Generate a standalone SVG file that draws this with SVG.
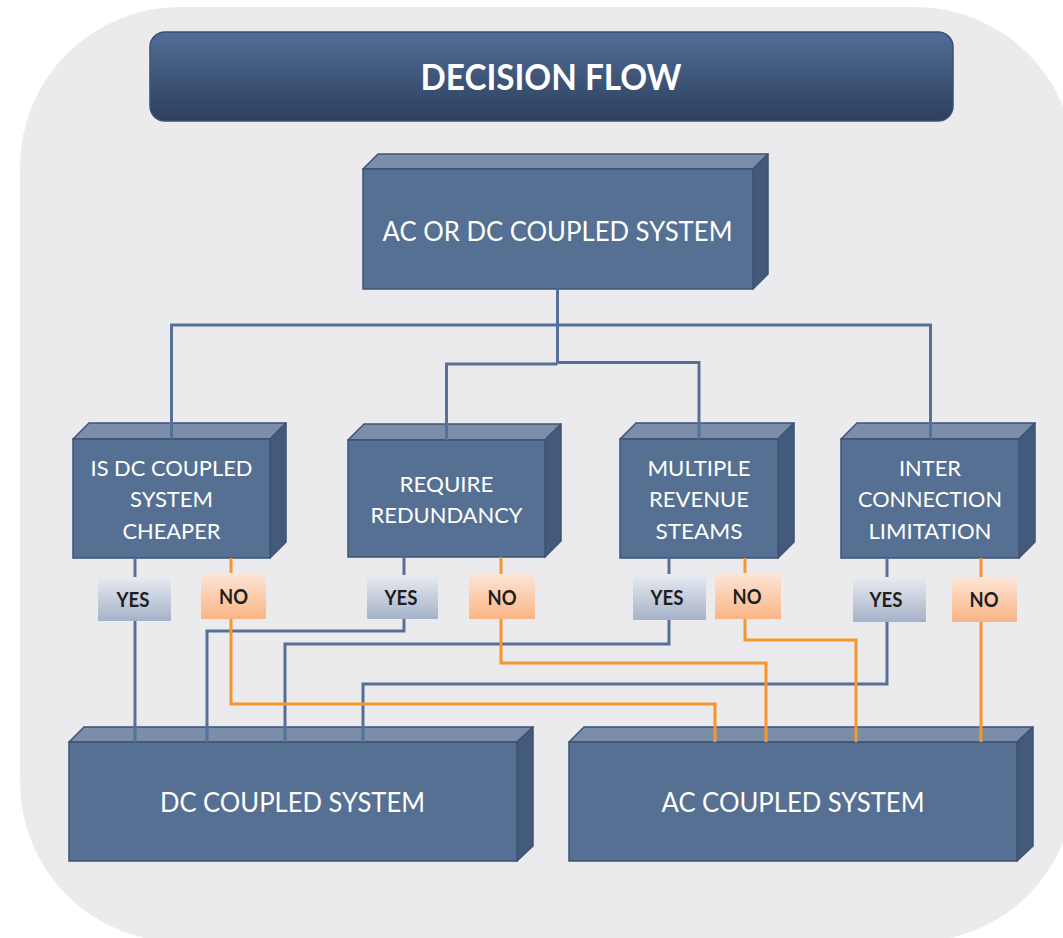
<svg xmlns="http://www.w3.org/2000/svg" width="1063" height="938" viewBox="0 0 1063 938">
  <defs>
    <linearGradient id="gTitle" x1="0" y1="0" x2="0" y2="1">
      <stop offset="0" stop-color="#516E97"/>
      <stop offset="1" stop-color="#2D3F5D"/>
    </linearGradient>
    <linearGradient id="gYes" x1="0" y1="0" x2="0" y2="1">
      <stop offset="0" stop-color="#E8EBF1"/>
      <stop offset="1" stop-color="#A5B2C9"/>
    </linearGradient>
    <linearGradient id="gNo" x1="0" y1="0" x2="0" y2="1">
      <stop offset="0" stop-color="#FDE5D7"/>
      <stop offset="1" stop-color="#F9B585"/>
    </linearGradient>
    <style>
      .front { fill: #557092; stroke: #3D5374; stroke-width: 1.5; }
      .top { fill: #7A8DAA; stroke: #3D5374; stroke-width: 1.5; stroke-linejoin: round; }
      .side { fill: #435A7A; stroke: #3D5374; stroke-width: 1.5; stroke-linejoin: round; }
      .lbl { font-family: Lato, "Liberation Sans", Arial, sans-serif; fill: #FFFFFF; text-anchor: middle; }
      .mid { font-size: 21.5px; }
      .big { font-size: 26px; }
      .blue { fill: none; stroke: #56709A; stroke-width: 3; }
      .orange { fill: none; stroke: #F7952F; stroke-width: 3; }
      .tag { font-family: Lato, "Liberation Sans", Arial, sans-serif; font-weight: bold; font-size: 21px; fill: #1E1E1E; text-anchor: middle; }
    </style>
  </defs>

  <!-- panel -->
  <rect x="20" y="7" width="1055" height="935" rx="160" ry="160" fill="#EBEBED"/>

  <!-- title banner -->
  <g id="title">
    <rect x="150" y="32" width="803" height="89" rx="15" ry="15" fill="url(#gTitle)" stroke="#3B506F" stroke-width="1.5"/>
    <text x="551" y="90" font-family="Lato, 'Liberation Sans', Arial, sans-serif" font-weight="bold" font-size="37" fill="#FFFFFF" text-anchor="middle" textLength="261" lengthAdjust="spacingAndGlyphs">DECISION FLOW</text>
  </g>

  <!-- top decision block -->
  <g id="node-root">
    <polygon class="top" points="363,169 378,154 768,154 753,169"/>
    <polygon class="side" points="753,169 768,154 768,274 753,289"/>
    <rect class="front" x="363" y="169" width="390" height="120"/>
    <text class="lbl big" x="557.5" y="240.5" textLength="350" lengthAdjust="spacingAndGlyphs">AC OR DC COUPLED SYSTEM</text>
  </g>

  <!-- question blocks -->
  <g id="node-cheaper">
    <polygon class="top" points="73,439 89,423 286,423 270,439"/>
    <polygon class="side" points="270,439 286,423 286,542 270,558"/>
    <rect class="front" x="73" y="439" width="197" height="119"/>
    <text class="lbl mid" x="171.5" y="475.5" textLength="162" lengthAdjust="spacingAndGlyphs">IS DC COUPLED</text>
    <text class="lbl mid" x="171.5" y="507" textLength="83" lengthAdjust="spacingAndGlyphs">SYSTEM</text>
    <text class="lbl mid" x="171.5" y="538.5" textLength="98" lengthAdjust="spacingAndGlyphs">CHEAPER</text>
  </g>

  <g id="node-redundancy">
    <polygon class="top" points="348,440 364,424 561,424 545,440"/>
    <polygon class="side" points="545,440 561,424 561,541 545,557"/>
    <rect class="front" x="348" y="440" width="197" height="117"/>
    <text class="lbl mid" x="446.5" y="492" textLength="94" lengthAdjust="spacingAndGlyphs">REQUIRE</text>
    <text class="lbl mid" x="446.5" y="523" textLength="152" lengthAdjust="spacingAndGlyphs">REDUNDANCY</text>
  </g>

  <g id="node-revenue">
    <polygon class="top" points="620,439 636,423 794,423 778,439"/>
    <polygon class="side" points="778,439 794,423 794,542 778,558"/>
    <rect class="front" x="620" y="439" width="158" height="119"/>
    <text class="lbl mid" x="699" y="475.5" textLength="103" lengthAdjust="spacingAndGlyphs">MULTIPLE</text>
    <text class="lbl mid" x="699" y="507" textLength="100" lengthAdjust="spacingAndGlyphs">REVENUE</text>
    <text class="lbl mid" x="699" y="538.5" textLength="87" lengthAdjust="spacingAndGlyphs">STEAMS</text>
  </g>

  <g id="node-interconnection">
    <polygon class="top" points="841,439 857,423 1035,423 1019,439"/>
    <polygon class="side" points="1019,439 1035,423 1035,542 1019,558"/>
    <rect class="front" x="841" y="439" width="178" height="119"/>
    <text class="lbl mid" x="930" y="475.5" textLength="62" lengthAdjust="spacingAndGlyphs">INTER</text>
    <text class="lbl mid" x="930" y="507" textLength="144" lengthAdjust="spacingAndGlyphs">CONNECTION</text>
    <text class="lbl mid" x="930" y="538.5" textLength="123" lengthAdjust="spacingAndGlyphs">LIMITATION</text>
  </g>

  <!-- outcome blocks -->
  <g id="node-dc">
    <polygon class="top" points="69,742 84,727 533,727 517,742"/>
    <polygon class="side" points="517,742 533,727 533,846 517,861"/>
    <rect class="front" x="69" y="742" width="448" height="119"/>
    <text class="lbl big" x="292.5" y="812" textLength="265" lengthAdjust="spacingAndGlyphs">DC COUPLED SYSTEM</text>
  </g>

  <g id="node-ac">
    <polygon class="top" points="569,742 584,727 1033,727 1017,742"/>
    <polygon class="side" points="1017,742 1033,727 1033,846 1017,861"/>
    <rect class="front" x="569" y="742" width="448" height="119"/>
    <text class="lbl big" x="793" y="812" textLength="263" lengthAdjust="spacingAndGlyphs">AC COUPLED SYSTEM</text>
  </g>

  <!-- connectors -->
  <g id="connectors">
    <!-- fan-out from the root block -->
    <path class="blue" d="M557.5,289 V363"/>
    <path class="blue" d="M171.5,439 V325 H930.5 V439"/>
    <path class="blue" d="M446.5,440 V364 H557.5"/>
    <path class="blue" d="M557.5,362.5 H699 V439"/>

    <!-- YES branches to DC -->
    <path class="blue" d="M135,558 V742"/>
    <path class="blue" d="M404,557 V631 H207 V742"/>
    <path class="blue" d="M669,558 V644 H285 V742"/>
    <path class="blue" d="M887,558 V684 H363 V742"/>

    <!-- NO branches to AC -->
    <path class="orange" d="M231,558 V704 H715 V742"/>
    <path class="orange" d="M501,557 V663 H766 V742"/>
    <path class="orange" d="M745,558 V640 H856 V742"/>
    <path class="orange" d="M981,558 V742"/>
  </g>

  <!-- branch tags -->
  <g id="tag-yes-1"><rect x="98" y="577" width="73" height="44" fill="url(#gYes)"/><text class="tag" x="133" y="606.5" textLength="33" lengthAdjust="spacingAndGlyphs">YES</text></g>
  <g id="tag-no-1"><rect x="201" y="573" width="65" height="46" fill="url(#gNo)"/><text class="tag" x="233.5" y="604" textLength="29" lengthAdjust="spacingAndGlyphs">NO</text></g>
  <g id="tag-yes-2"><rect x="367" y="575" width="71" height="44" fill="url(#gYes)"/><text class="tag" x="401" y="604.5" textLength="33" lengthAdjust="spacingAndGlyphs">YES</text></g>
  <g id="tag-no-2"><rect x="469" y="574" width="66" height="45" fill="url(#gNo)"/><text class="tag" x="502" y="604.5" textLength="29" lengthAdjust="spacingAndGlyphs">NO</text></g>
  <g id="tag-yes-3"><rect x="633" y="574" width="73" height="46" fill="url(#gYes)"/><text class="tag" x="667" y="604.5" textLength="33" lengthAdjust="spacingAndGlyphs">YES</text></g>
  <g id="tag-no-3"><rect x="715" y="573" width="66" height="46" fill="url(#gNo)"/><text class="tag" x="747" y="603.5" textLength="29" lengthAdjust="spacingAndGlyphs">NO</text></g>
  <g id="tag-yes-4"><rect x="853" y="577" width="73" height="45" fill="url(#gYes)"/><text class="tag" x="886" y="607" textLength="33" lengthAdjust="spacingAndGlyphs">YES</text></g>
  <g id="tag-no-4"><rect x="952" y="577" width="65" height="45" fill="url(#gNo)"/><text class="tag" x="984" y="607" textLength="29" lengthAdjust="spacingAndGlyphs">NO</text></g>
</svg>
